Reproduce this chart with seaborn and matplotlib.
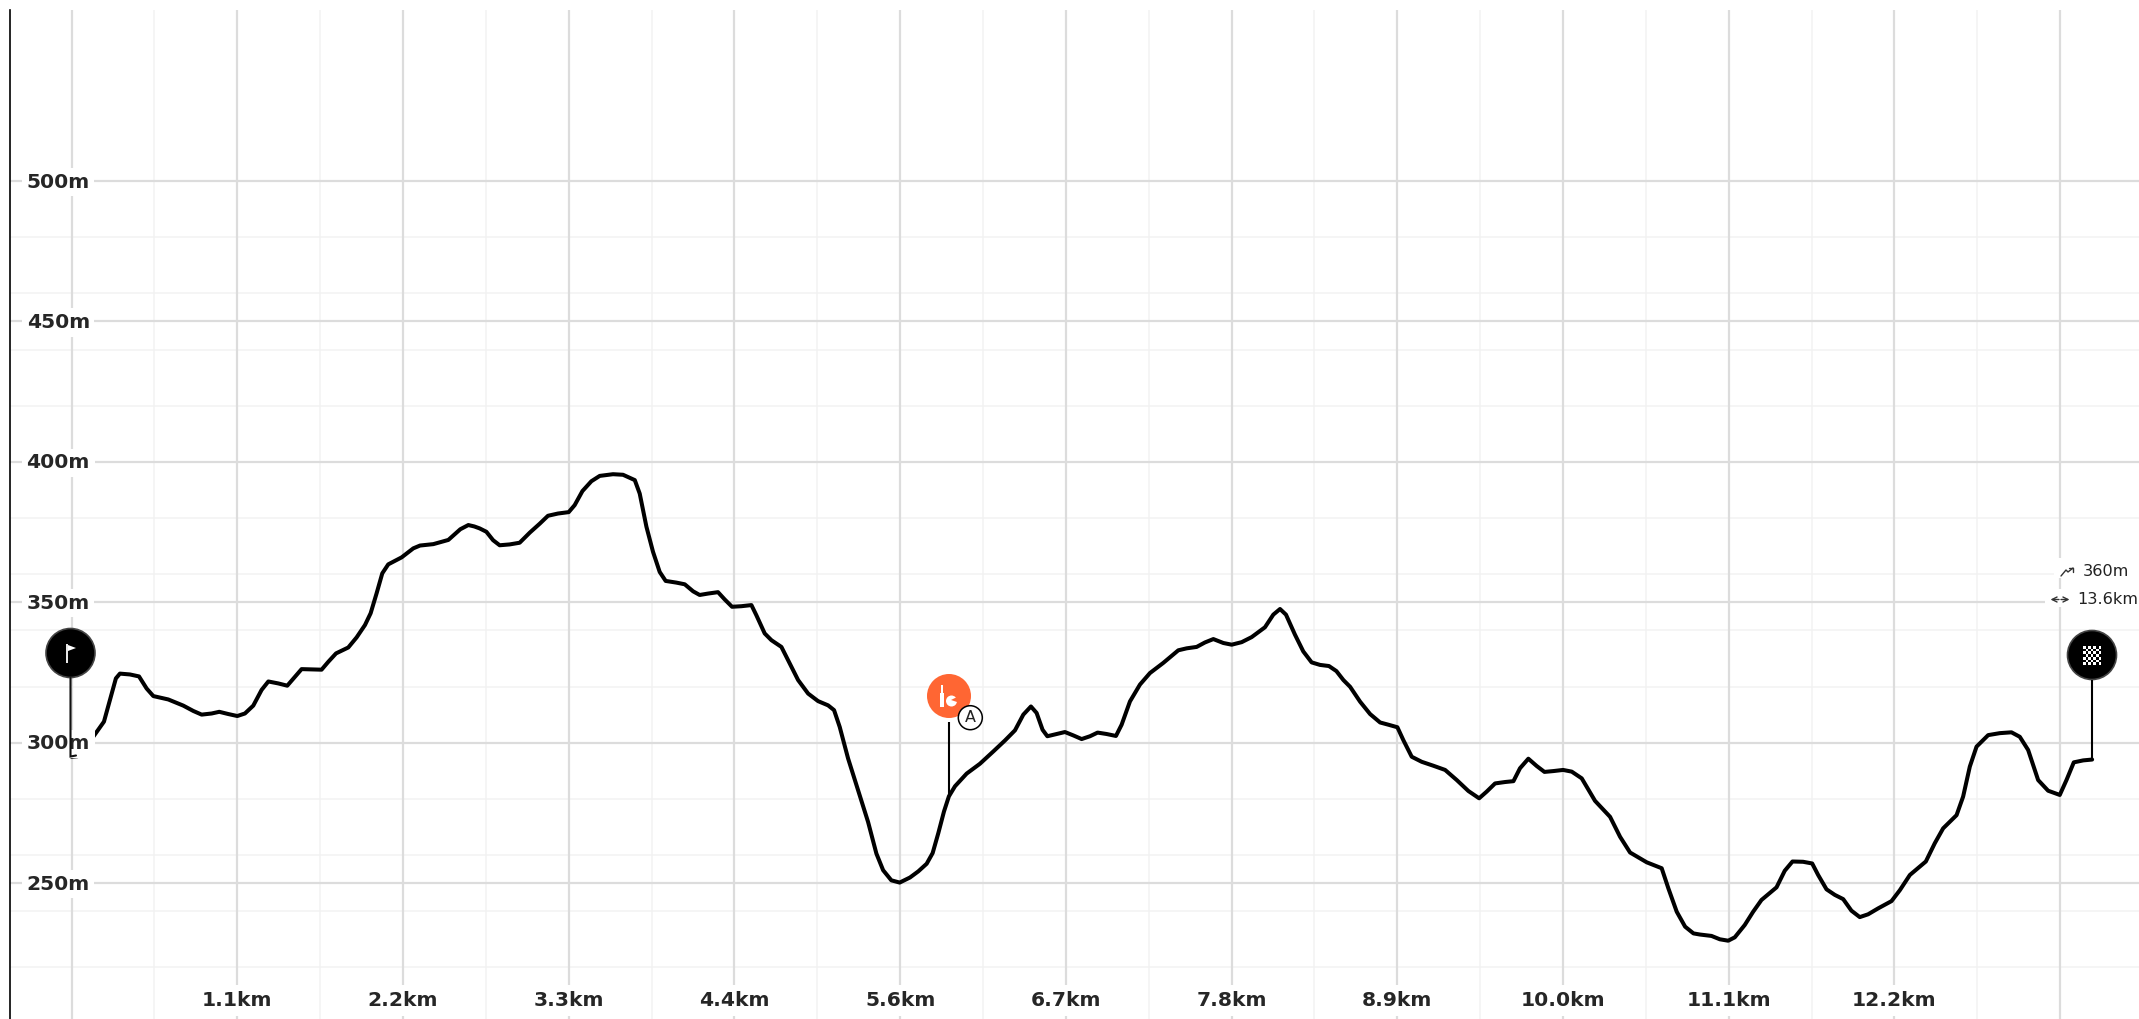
import numpy as np
import pandas as pd
import matplotlib
matplotlib.use("Agg")
import matplotlib.pyplot as plt
from matplotlib.patches import Circle, Polygon, Rectangle
import seaborn as sns

# elevation profile
distance_km = [
    0.0, 0.04, 0.08, 0.145, 0.217, 0.257, 0.297, 0.324, 0.391, 0.452, 0.503, 0.548, 0.648, 0.749, 0.816, 0.872,
    0.939, 0.990, 1.051, 1.111, 1.162, 1.218, 1.274, 1.319, 1.386, 1.446, 1.498, 1.542, 1.621, 1.676, 1.721,
    1.773, 1.855, 1.911, 1.967, 2.005, 2.045, 2.083, 2.123, 2.213, 2.291, 2.336, 2.425, 2.526, 2.606, 2.66,
    2.70, 2.736, 2.781, 2.826, 2.870, 2.937, 3.004, 3.072, 3.139, 3.194, 3.261, 3.333, 3.373, 3.425, 3.485,
    3.541, 3.630, 3.697, 3.776, 3.809, 3.854, 3.898, 3.943, 3.983, 4.055, 4.111, 4.167, 4.211, 4.267, 4.334,
    4.379, 4.428, 4.491, 4.558, 4.591, 4.647, 4.692, 4.759, 4.815, 4.871, 4.938, 5.005, 5.072, 5.112, 5.150,
    5.206, 5.273, 5.340, 5.396, 5.441, 5.496, 5.552, 5.621, 5.677, 5.733, 5.773, 5.811, 5.849, 5.882, 5.923,
    6.001, 6.090, 6.180, 6.258, 6.325, 6.381, 6.432, 6.470, 6.510, 6.542, 6.604, 6.660, 6.716, 6.772, 6.828,
    6.879, 6.939, 7.002, 7.040, 7.096, 7.163, 7.230, 7.319, 7.420, 7.476, 7.543, 7.599, 7.655, 7.722, 7.778,
    7.845, 7.912, 8.001, 8.057, 8.102, 8.142, 8.202, 8.258, 8.314, 8.370, 8.43, 8.48, 8.527, 8.572, 8.639,
    8.706, 8.773, 8.829, 8.889, 8.929, 8.985, 9.052, 9.130, 9.209, 9.287, 9.365, 9.437, 9.488, 9.544, 9.611,
    9.667, 9.711, 9.767, 9.823, 9.875, 9.935, 10.0, 10.058, 10.125, 10.214, 10.315, 10.382, 10.449, 10.561,
    10.661, 10.706, 10.762, 10.818, 10.874, 10.917, 10.995, 11.051, 11.107, 11.151, 11.218, 11.274, 11.330,
    11.431, 11.486, 11.538, 11.609, 11.670, 11.710, 11.766, 11.822, 11.878, 11.933, 11.989, 12.045, 12.112,
    12.202, 12.258, 12.325, 12.432, 12.492, 12.548, 12.638, 12.682, 12.727, 12.772, 12.850, 12.928, 13.006,
    13.062, 13.118, 13.185, 13.252, 13.330, 13.375, 13.424, 13.487, 13.547,
]
elevation_m = [
    295.0, 295.2, 298.0, 302.1, 307.5, 315.2, 322.9, 324.6, 324.3, 323.6, 319.3, 316.6, 315.4, 313.2, 311.3, 310.0,
    310.4, 311.0, 310.2, 309.5, 310.4, 313.2, 318.8, 321.8, 321.1, 320.3, 323.5, 326.2, 326.1, 326.0, 328.8,
    331.8, 333.9, 337.5, 341.9, 346.1, 353.2, 360.3, 363.5, 366.0, 369.2, 370.2, 370.7, 372.2, 376.0, 377.5,
    377.0, 376.3, 375.1, 372.1, 370.3, 370.6, 371.2, 374.8, 378.0, 380.8, 381.6, 382.1, 384.6, 389.6, 393.1,
    395.0, 395.6, 395.4, 393.5, 388.7, 376.9, 368.0, 360.8, 357.6, 357.0, 356.4, 353.9, 352.6, 353.1, 353.6,
    351.0, 348.4, 348.6, 349.0, 345.4, 338.9, 336.5, 334.1, 328.2, 322.3, 317.5, 314.8, 313.3, 311.6, 305.6,
    294.4, 283.1, 271.8, 260.5, 254.6, 251.0, 250.2, 252.0, 254.2, 256.9, 260.7, 267.8, 275.5, 280.9, 284.5,
    289.0, 292.5, 296.9, 300.8, 304.4, 310.0, 312.9, 310.6, 304.6, 302.3, 303.1, 303.8, 302.6, 301.3, 302.3,
    303.6, 303.1, 302.4, 306.4, 314.7, 320.7, 324.8, 328.4, 332.9, 333.6, 334.1, 335.7, 336.9, 335.5, 334.9,
    335.8, 337.6, 341.1, 345.6, 347.6, 345.6, 338.5, 332.5, 328.6, 327.7, 327.3, 325.5, 322.3, 319.9, 314.6,
    310.2, 307.2, 306.4, 305.5, 300.9, 295.0, 293.2, 291.8, 290.3, 286.7, 282.8, 280.2, 282.6, 285.5, 286.0,
    286.3, 290.9, 294.3, 291.7, 289.6, 289.9, 290.3, 289.7, 287.3, 279.3, 273.6, 266.5, 260.9, 257.4,
    255.3, 248.1, 239.8, 234.5, 232.1, 231.7, 231.2, 230.0, 229.5, 230.7, 235.1, 239.8, 244.0,
    248.5, 254.4, 257.7, 257.6, 257.0, 252.9, 247.8, 245.8, 244.3, 240.2, 237.9, 238.9, 241.0,
    243.6, 247.5, 252.9, 257.7, 264.2, 269.5, 274.2, 280.8, 291.5, 298.6, 302.7, 303.4, 303.7,
    302.1, 297.4, 286.7, 282.9, 281.4, 286.7, 293.0, 293.7, 294.0,
]

x_major_km = [1.111 * i for i in range(13)]
x_minor_km = [0.5556 + 1.111 * i for i in range(12)]
x_labels = ["1.1km", "2.2km", "3.3km", "4.4km", "5.6km", "6.7km", "7.8km", "8.9km", "10.0km", "11.1km", "12.2km"]
y_major_m = [250, 300, 350, 400, 450, 500]
y_minor_m = [220, 240, 260, 280, 300, 320, 340, 360, 380, 400, 420, 440, 460, 480]
y_labels = ["250m", "300m", "350m", "400m", "450m", "500m"]

W, H = 2139, 1019
PX_KM = 149.15  # px per km
PX_M = 2.8085   # px per metre
X0, Y300 = 71.6, 742.7
LEFT, TOP = 10, 10

sns.set_theme(style="white")
plt.rcParams["font.family"] = ["DejaVu Sans"]

fig = plt.figure(figsize=(W / 100, H / 100), dpi=100, facecolor="white")
ax = fig.add_axes([LEFT / W, 0, 1 - LEFT / W, 1 - TOP / H])
ax.set_xlim((LEFT - X0) / PX_KM, (W - X0) / PX_KM)
ax.set_ylim(300 - (H - Y300) / PX_M, 300 + (Y300 - TOP) / PX_M)

for v in x_minor_km:
    ax.axvline(v, color="#f2f2f2", lw=1.1, zorder=1)
for v in y_minor_m:
    ax.axhline(v, color="#f2f2f2", lw=1.1, zorder=1)
for v in x_major_km:
    ax.axvline(v, color="#dcdcdc", lw=1.6, zorder=2)
for v in y_major_m:
    ax.axhline(v, color="#dcdcdc", lw=1.6, zorder=2)

profile = pd.DataFrame({"km": distance_km, "m": elevation_m})
sns.lineplot(data=profile, x="km", y="m", color="black", lw=2.9, sort=False, estimator=None,
             errorbar=None, ax=ax, zorder=3, solid_joinstyle="round", solid_capstyle="round")

ax.set_xlabel(""); ax.set_ylabel("")
ax.set_xticks([]); ax.set_yticks([])
for s in ["top", "right", "bottom"]:
    ax.spines[s].set_visible(False)
ax.spines["left"].set_color("black")
ax.spines["left"].set_linewidth(1.2)

# tick labels sit inside the plot on white boxes
lab = dict(fontsize=14.6, fontweight="bold", color="#262626", zorder=4)
for v, t in zip(y_major_m, y_labels):
    ax.text((58.2 - X0) / PX_KM, v - 1.0 / PX_M, t, ha="center", va="center", **lab,
            bbox=dict(fc="white", ec="none", pad=3.4))
for v, t in zip(x_major_km[1:], x_labels):
    ax.text(v, 300 - (1000.5 - Y300) / PX_M, t, ha="center", va="center", **lab,
            bbox=dict(fc="white", ec="none", pad=4.5))

# overlay in pixel coords for the pins and the summary
ov = fig.add_axes([0, 0, 1, 1])
ov.set_xlim(0, W); ov.set_ylim(H, 0)
ov.axis("off"); ov.patch.set_alpha(0)

# start pin
ov.plot([70.5, 70.5, 76], [678, 756.5, 755.5], color="#111111", lw=1.5, solid_joinstyle="miter")
ov.add_patch(Circle((70.5, 653), 24.5, fc="black", ec="#444444", lw=1.2))
ov.plot([67, 67], [644, 663], color="white", lw=1.3, solid_capstyle="butt")
ov.add_patch(Polygon([[68, 645], [76, 648], [68, 651]], fc="white", ec="none"))

# finish pin
ov.plot([2092, 2092], [680, 760], color="black", lw=1.5, solid_capstyle="butt")
ov.add_patch(Circle((2092, 655), 24.5, fc="black", ec="#444444", lw=1.2))
for i in range(7):
    for j in range(7):
        if (i + j) % 2 == 0:
            ov.add_patch(Rectangle((2083 + i * 2.6, 646 + j * 2.7), 2.6, 2.7, fc="white", ec="none"))

# POI pin
ov.plot([949, 949], [722, 797], color="black", lw=1.5, solid_capstyle="butt")
ov.add_patch(Circle((949, 696), 22, fc="#ff6633", ec="none"))
ov.add_patch(Rectangle((939.5, 693), 4.5, 14, fc="white", ec="none"))
ov.add_patch(Rectangle((941, 685), 1.6, 9, fc="white", ec="none"))
ov.add_patch(Circle((951.5, 701), 5.5, fc="white", ec="none"))
ov.add_patch(Polygon([[951, 700], [957, 697], [957, 702]], fc="#ff6633", ec="none"))
ov.add_patch(Circle((970.3, 717.7), 12, fc="white", ec="black", lw=1.1))
ov.text(970.3, 718, "A", ha="center", va="center", fontsize=11.5, color="#222222")

# summary
ov.add_patch(Rectangle((2054, 558), 85, 20, fc="white", ec="none"))
ov.add_patch(Rectangle((2045, 589), 94, 18, fc="white", ec="none"))
ov.plot([2061, 2066, 2068, 2073], [576, 570, 572, 568], color="#333333", lw=1.0)
ov.plot([2069, 2073, 2073], [568, 568, 572], color="#333333", lw=1.0)
ov.text(2105.5, 571.5, "360m", ha="center", va="center", fontsize=11.6, color="#222222")
ov.text(2107.5, 599.5, "13.6km", ha="center", va="center", fontsize=11.6, color="#222222")
ov.annotate("", xy=(2050.5, 599.5), xytext=(2059, 599.5), arrowprops=dict(arrowstyle="->", color="#333333", lw=1.0, shrinkA=0, shrinkB=0, mutation_scale=9))
ov.annotate("", xy=(2069.5, 599.5), xytext=(2061, 599.5), arrowprops=dict(arrowstyle="->", color="#333333", lw=1.0, shrinkA=0, shrinkB=0, mutation_scale=9))

fig.savefig("out.png", dpi=100)
plt.close(fig)
